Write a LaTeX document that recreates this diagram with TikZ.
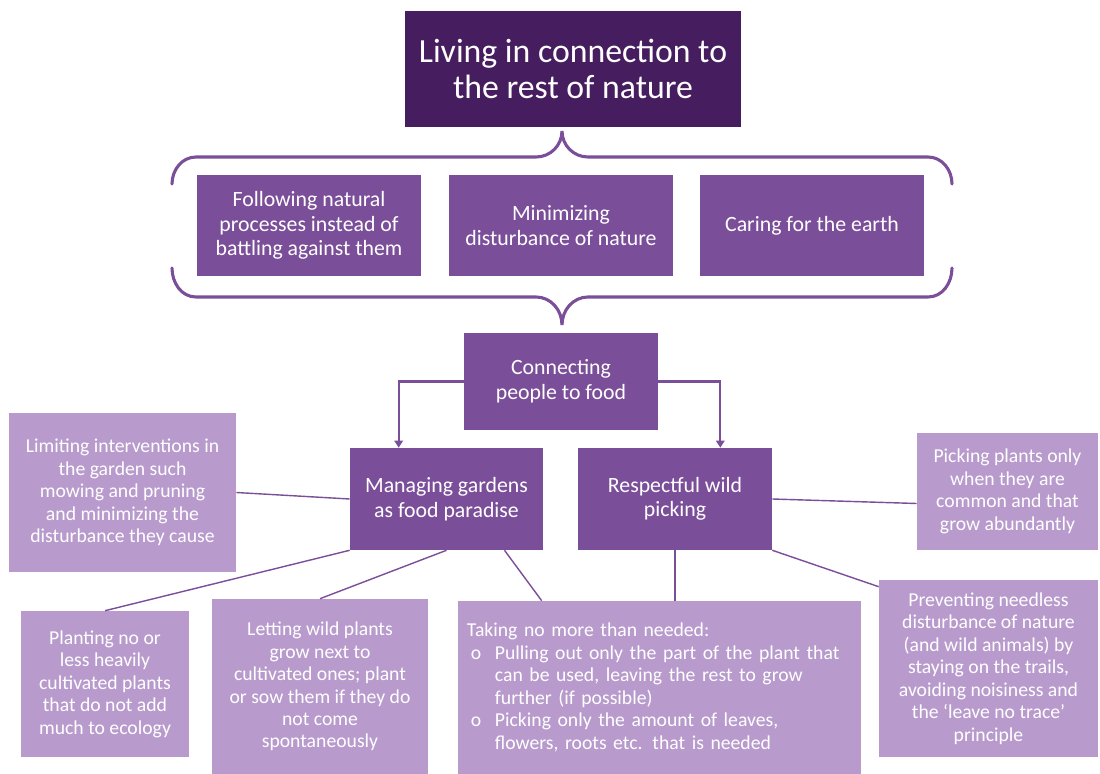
\documentclass[tikz,border=0pt]{standalone}
\usepackage{fontspec}
\setmainfont{Carlito}
\definecolor{NatDark}{HTML}{461D5F}
\definecolor{NatMid}{HTML}{7B4E99}
\definecolor{NatLight}{HTML}{B89BCC}
\usepackage{tikz}
\usetikzlibrary{positioning,arrows.meta,calc}

\begin{document}
\begin{tikzpicture}[x=0.025cm, y=-0.025cm,
    headbox/.style={rectangle, fill=NatDark, text=white, align=center,
      font=\fontsize{24}{25.6}\selectfont, minimum width=8.4cm, minimum height=2.9cm},
    midbox/.style={rectangle, fill=NatMid, text=white, align=center,
      font=\fontsize{15.5}{17.5}\selectfont},
    leafbox/.style={rectangle, fill=NatLight, text=white, align=center,
      font=\fontsize{14}{16}\selectfont},
    curly/.style={NatMid, line width=2.2pt, line cap=round},
    link/.style={NatMid, line width=1pt},
    feed/.style={NatMid, line width=1.5pt, -{Triangle[width=6pt,length=5pt]}}]
    \useasboundingbox (0,0) rectangle (1100,774);
    % top of the tree
    \node[headbox] (living) at (573,69) {Living in connection to\\the rest of nature};
    \draw[curly] (172,184) to[out=90,in=180] (196,157) -- (536,157)
      to[out=0,in=-90] (562,131) to[out=-90,in=180] (588,157) -- (928,157)
      to[out=0,in=90] (952,184);
    \node[midbox, minimum width=5.6cm, minimum height=2.525cm] (follow) at (309,225.5)
      {Following natural\\processes instead of\\battling against them};
    \node[midbox, minimum width=5.6cm, minimum height=2.525cm] (minimal) at (561,225.5)
      {Minimizing\\disturbance of nature};
    \node[midbox, minimum width=5.6cm, minimum height=2.525cm] (caring) at (812,225.5)
      {Caring for the earth};
    \draw[curly] (172,268) to[out=-90,in=180] (196,297) -- (536,297)
      to[out=0,in=90] (562,325) to[out=90,in=180] (588,297) -- (928,297)
      to[out=0,in=-90] (952,268);
    % food branch
    \node[midbox, minimum width=4.85cm, minimum height=2.425cm] (connect) at (561,381.5)
      {Connecting\\people to food};
    \node[midbox, minimum width=4.825cm, minimum height=2.55cm] (garden) at (446.5,499)
      {Managing gardens\\as food paradise};
    \node[midbox, minimum width=4.85cm, minimum height=2.55cm] (wild) at (675,499)
      {Respectful wild\\picking};
    \draw[feed] (connect.west) -| ($(garden.north west)+(49,0)$);
    \draw[feed] (connect.east) -| ($(wild.north east)+(-52,0)$);
    % leaves
    \node[leafbox, minimum width=5.675cm, minimum height=3.975cm] (limit) at (122.5,492.5)
      {Limiting interventions in\\the garden such\\mowing and pruning\\and minimizing the\\disturbance they cause};
    \node[leafbox, minimum width=4.525cm, minimum height=2.925cm] (common) at (1007.5,491.5)
      {Picking plants only\\when they are\\common and that\\grow abundantly};
    \node[leafbox, minimum width=4.2cm, minimum height=3.65cm] (planting) at (105,684)
      {Planting no or\\less heavily\\cultivated plants\\that do not add\\much to ecology};
    \node[leafbox, minimum width=5.4cm, minimum height=4.375cm] (letting) at (320,686.5)
      {Letting wild plants\\grow next to\\cultivated ones; plant\\or sow them if they do\\not come\\spontaneously};
    \node[leafbox, align=left, text width=9.625cm, inner xsep=0.225cm,
      minimum width=10.075cm, minimum height=4.325cm] (taking) at (659.5,687.5)
      {Taking no more than needed:\\
      \makebox[0.7cm][l]{\hspace{0.1cm}o}Pulling out only the part of the plant that\\
      \hspace*{0.7cm}can be used, leaving the rest to grow\\
      \hspace*{0.7cm}further (if possible)\\
      \makebox[0.7cm][l]{\hspace{0.1cm}o}Picking only the amount of leaves,\\
      \hspace*{0.7cm}flowers, roots etc. that is needed};
    \node[leafbox, minimum width=5.475cm, minimum height=4.425cm] (prevent) at (988.5,668.5)
      {Preventing needless\\disturbance of nature\\(and wild animals) by\\staying on the trails,\\avoiding noisiness and\\the ‘leave no trace’\\principle};
    \draw[link] (limit.east) -- (garden.west);
    \draw[link] (garden.south west) -- (planting.north);
    \draw[link] (garden.south) -- (letting.north);
    \draw[link] ($(garden.south)+(58,0)$) -- ($(taking.north west)+(84,0)$);
    \draw[link] (wild.south) -- (wild.south |- taking.north);
    \draw[link] (wild.south east) -- ($(prevent.north west)+(0,7)$);
    \draw[link] (wild.east) -- ($(common.west)+(0,12)$);
  \end{tikzpicture}
\end{document}
